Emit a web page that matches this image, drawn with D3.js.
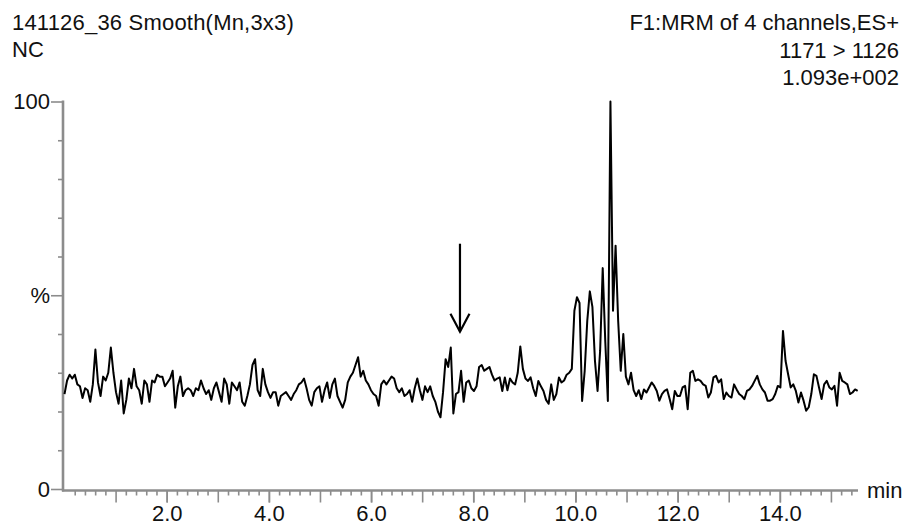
<!DOCTYPE html>
<html><head><meta charset="utf-8">
<script src="https://cdn.jsdelivr.net/npm/d3@7"></script>
<style>
body{margin:0;background:#fff}
svg{display:block}
text{font-family:"Liberation Sans",Arial,sans-serif;fill:#111}
</style>
</head><body>
<svg id="c" width="909" height="526"></svg>
<script>
// ---- data ----
const titleLeft = ["141126_36 Smooth(Mn,3x3)", "NC"];
const titleRight = ["F1:MRM of 4 channels,ES+", "1171 > 1126", "1.093e+002"];
const xTickValues = [2, 4, 6, 8, 10, 12, 14];
const xTickLabels = ["2.0", "4.0", "6.0", "8.0", "10.0", "12.0", "14.0"];
const yTickValues = [0, 50, 100];
const yTickLabels = ["0", "%", "100"];
const xUnit = "min";
const xDomain = [0, 15.53];
const scanStart = 0;        // min
const scanInterval = 0.0504; // min per scan
// relative intensity (%) per scan
const intensity = [
  24.5, 28, 29.5, 28.5, 29.5, 27, 26.5, 23.5, 26, 25.5, 22.5, 27, 36,
  27.5, 24, 29, 28, 30, 36.5, 30, 25, 22, 28, 19.5, 23,
  28.5, 26, 31, 26.5, 25.5, 22, 28, 27, 22.5, 28, 27.5, 29.5, 29,
  29, 26.5, 27.5, 28.5, 30.5, 21, 26.5, 29, 24, 25.5, 26, 25.5, 24,
  26, 25.5, 28, 26, 24.5, 25.5, 23, 26, 27.5, 25, 22.5, 28.5,
  27, 22, 27.5, 26.5, 25.5, 27.5, 22.5, 21.5, 24, 27, 32, 33.5, 25.5, 24,
  31, 27, 25, 23.5, 25, 25, 21.5, 24, 24.5, 25, 24, 23,
  24.5, 25.5, 27, 27.5, 28.5, 26, 23, 21.5, 25, 26, 26.5, 22.5, 25.5,
  27.5, 23.5, 27, 28.5, 24, 22.5, 21, 23, 27.5, 29, 30, 32, 34, 29,
  30.5, 28, 27, 25.5, 24.5, 24, 21.5, 27, 28, 27, 28, 29,
  28.5, 26, 25, 26, 24, 24.5, 25.5, 22.5, 26, 28.5, 25.5, 23,
  26.5, 25, 26.5, 24, 22.5, 20, 18.5, 25, 33.5, 31.5, 36.5, 19.5,
  24.5, 25, 30.5, 22.5, 27.5, 28, 26, 25.3, 26.5, 31.5, 32, 30.5, 31, 31.5, 29.5, 28,
  28.5, 28.8, 25.3, 28.8, 25.5, 28.5, 27.5, 27, 30, 36.8, 31, 28.5, 27.9, 28.8, 26, 24,
  27.9, 26.5, 25.3, 23, 22, 27, 23, 24.5, 28.8, 27.5, 28, 29.5, 30, 31, 46, 49.5,
  48, 22.7, 30.5, 43.4, 51, 47, 33, 25.3, 35.7, 57, 38, 22.7, 100, 46, 62.8, 43.4, 30.5, 40, 29, 27, 30, 25.5, 24, 25.5,
  23.2, 25.7, 24.9, 26.2, 27.5, 26.6, 25.3, 22.8, 24.5, 25.3, 25.7, 23.2,
  20.6, 25.3, 24, 24, 26.2, 26.6, 20.6, 30, 30.5, 27.9, 28.3, 27.9,
  27, 26.6, 23.6, 24.9, 28.8, 29.2, 27.5, 28.3, 23.2, 24.9, 24, 23.6,
  27, 25.7, 24.5, 24, 23.2, 25.3, 25.7, 26.6, 27.9, 29.2, 27, 25.7,
  24.9, 22.8, 22.8, 23.2, 24.5, 26.6, 26.2, 40.8, 33.1, 29.6, 26.2, 27,
  25.3, 22.3, 24.9, 22.8, 20.2, 21.1, 24.5, 29.6, 29.2, 26.2, 23.2, 27,
  27.9, 26.2, 25.7, 26.6, 21.5, 30, 27.9, 27.5, 27, 24.5, 24.9, 25.7, 25.3
];
// annotation arrow (time, from %, to %)
const arrowTime = 7.74, arrowFrom = 63.3, arrowTo = 40.6;

// ---- chart ----
const svg = d3.select("#c");
const x = d3.scaleLinear().domain(xDomain).range([64.5, 858]);
const y = d3.scaleLinear().domain([0, 100]).range([489, 101.5]);
const axisY0 = 490.5, axisX0 = 63;
const gray = "#8c8c8c";
const fs = 22;

// titles
svg.append("g").selectAll("text").data(titleLeft).join("text")
  .attr("x", 12).attr("y", (d, i) => 30 + i * 27).attr("font-size", fs)
  .attr("letter-spacing", (d, i) => i === 0 ? 0.2 : 0).text(d => d);
svg.append("g").selectAll("text").data(titleRight).join("text")
  .attr("x", 899).attr("y", (d, i) => 30 + i * 27.5).attr("text-anchor", "end").attr("font-size", fs).text(d => d);

// x axis ticks
const minorX = d3.range(1, 78).map(i => +(i * 0.2).toFixed(1)).filter(v => Math.abs(v - Math.round(v)) > 1e-6 && v <= 15.5);
const majorX = d3.range(1, 16);
function styleAxis(g) {
  g.select(".domain").remove();
  g.selectAll(".tick line").attr("stroke", gray).attr("stroke-width", 1.6);
  g.selectAll("text").attr("font-size", fs).attr("font-family", '"Liberation Sans",Arial,sans-serif').attr("fill", "#111");
}
svg.append("g").attr("transform", `translate(0,${axisY0})`)
  .call(d3.axisBottom(x).tickValues(minorX).tickSize(5).tickFormat(""))
  .call(styleAxis);
svg.append("g").attr("transform", `translate(0,${axisY0})`)
  .call(d3.axisBottom(x).tickValues(majorX).tickSize(12).tickFormat(""))
  .call(styleAxis);
svg.append("g").attr("transform", `translate(0,${axisY0})`)
  .call(d3.axisBottom(x).tickValues(xTickValues).tickSize(12).tickPadding(3)
    .tickFormat((d, i) => xTickLabels[i]))
  .call(styleAxis);

// y axis ticks
const minorY = d3.range(10, 100, 10).filter(v => v !== 50);
svg.append("g").attr("transform", `translate(${axisX0},0)`)
  .call(d3.axisLeft(y).tickValues(minorY).tickSize(5).tickFormat(""))
  .call(styleAxis);
svg.append("g").attr("transform", `translate(${axisX0},0)`)
  .call(d3.axisLeft(y).tickValues(yTickValues).tickSize(12).tickPadding(1)
    .tickFormat((d, i) => yTickLabels[i]))
  .call(styleAxis);

// axis lines
svg.append("line").attr("x1", axisX0).attr("x2", axisX0).attr("y1", 100.5).attr("y2", axisY0 + 1)
  .attr("stroke", gray).attr("stroke-width", 2.6);
svg.append("line").attr("x1", axisX0 - 1).attr("x2", 858).attr("y1", axisY0).attr("y2", axisY0)
  .attr("stroke", gray).attr("stroke-width", 2.6);

// unit label
svg.append("text").attr("x", 867).attr("y", 498).attr("font-size", fs).text(xUnit);

// trace
const pts = intensity.map((v, i) => [scanStart + i * scanInterval, v]);
svg.append("path").datum(pts)
  .attr("fill", "none").attr("stroke", "#000").attr("stroke-width", 2)
  .attr("stroke-linejoin", "round")
  .attr("d", d3.line().x(d => x(d[0])).y(d => y(d[1])));

// arrow
const ax = x(arrowTime);
svg.append("line").attr("x1", ax).attr("x2", ax).attr("y1", y(arrowFrom)).attr("y2", y(arrowTo))
  .attr("stroke", "#000").attr("stroke-width", 2.2);
svg.append("path")
  .attr("d", `M${ax - 9.5},${y(arrowTo) - 18}L${ax},${y(arrowTo)}L${ax + 9.5},${y(arrowTo) - 18}`)
  .attr("fill", "none").attr("stroke", "#000").attr("stroke-width", 2.2);
</script>
</body></html>
